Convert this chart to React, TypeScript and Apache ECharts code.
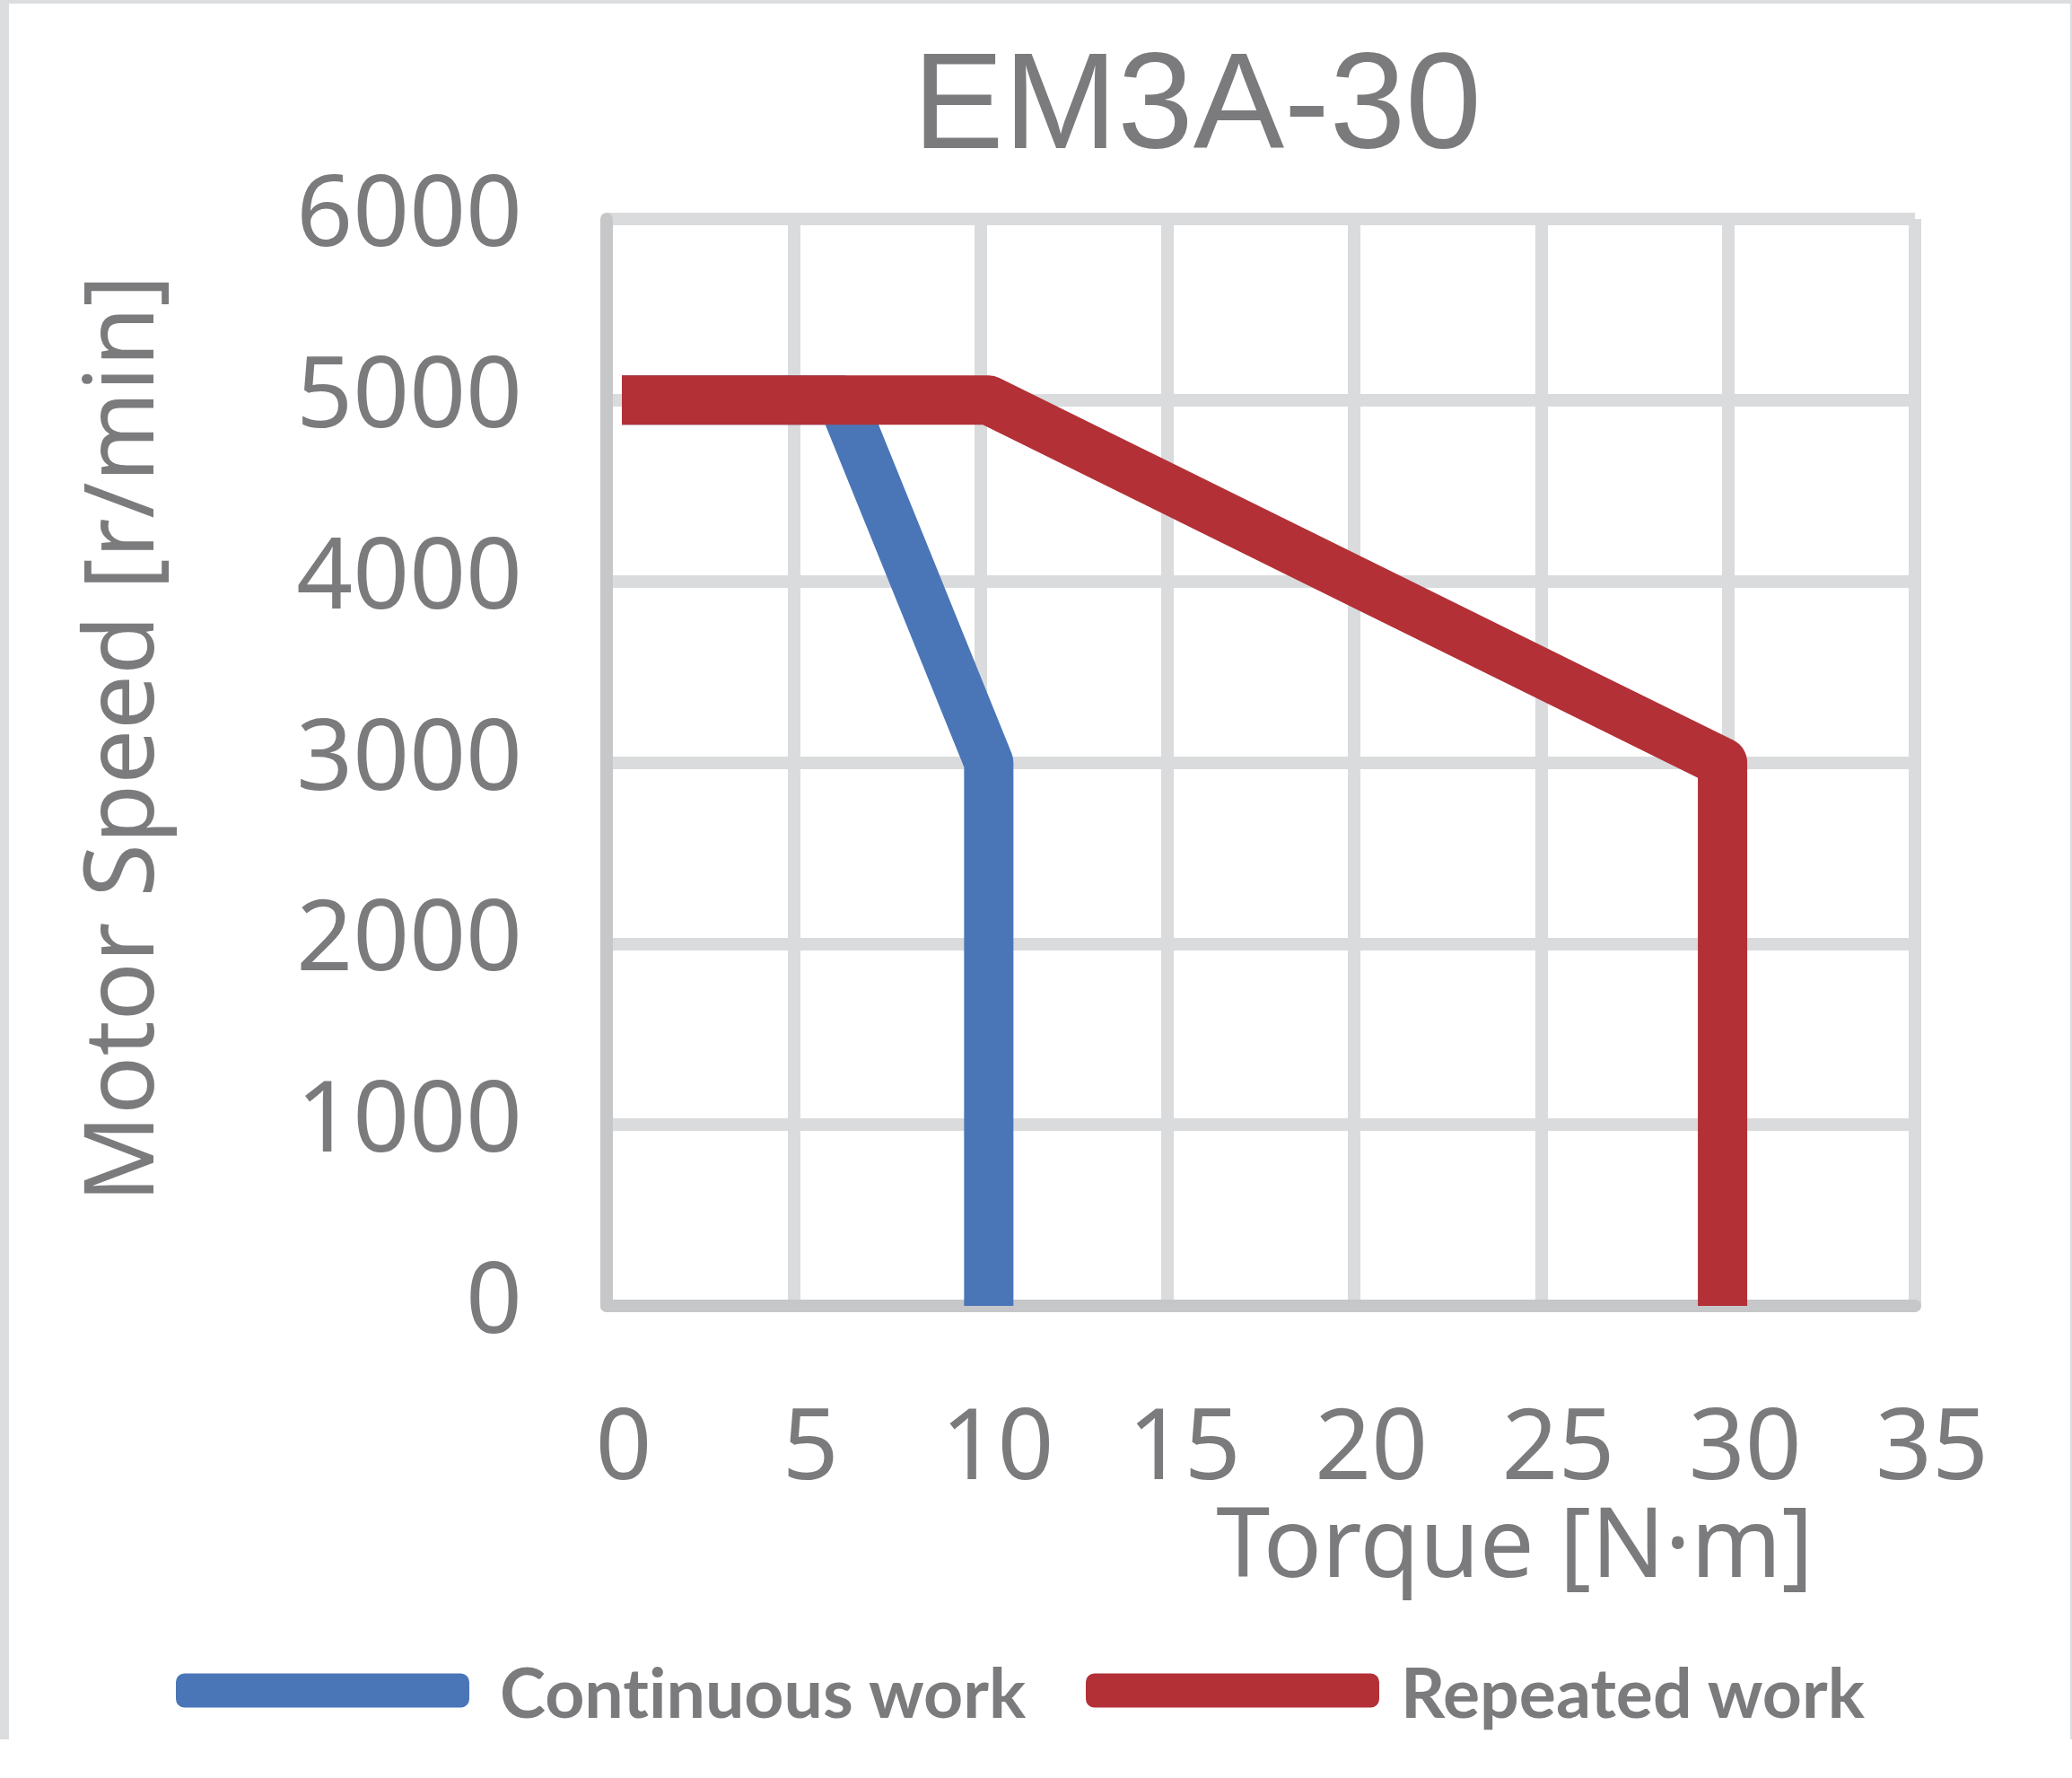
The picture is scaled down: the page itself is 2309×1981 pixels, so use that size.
import React, { useEffect, useRef } from "react";
import * as echarts from "echarts";

const chartTitle = "EM3A-30";
const xAxisTitle = "Torque [N·m]";
const yAxisTitle = "Motor Speed [r/min]";
const seriesNames = ["Continuous work", "Repeated work"];

const continuousTorque = [0, 6, 10, 10];
const continuousSpeed = [5000, 5000, 3000, 0];
const repeatedTorque = [0, 10, 30, 30];
const repeatedSpeed = [5000, 5000, 3000, 0];

const torqueMin = 0;
const torqueMax = 35;
const torqueStep = 5;
const speedMin = 0;
const speedMax = 6000;
const speedStep = 1000;

const BLUE = "#4a76b8";
const RED = "#b33037";
const TEXT = "#7b7b7d";
const GRID = "#dadbdd";
const AXIS = "#c6c7c9";
const FRAME = "#dcdddf";

const zip = (xs: number[], ys: number[]) => xs.map((x, i) => [x, ys[i]]);

export default function App() {
  const ref = useRef<HTMLDivElement>(null);
  useEffect(() => {
    if (!ref.current) return;
    const chart = echarts.init(ref.current, undefined, { renderer: "svg" });
    const labelFont = { fontFamily: "Noto Sans", fontSize: 110, color: TEXT };
    const legendBase = {
      icon: "roundRect",
      itemWidth: 327,
      itemHeight: 38,
      padding: 0,
      top: 1840,
      selectedMode: false,
      itemStyle: { borderWidth: 0 },
    };
    const hiddenX = (gridIndex: number) => ({
      type: "value",
      gridIndex,
      min: torqueMin,
      max: torqueMax,
      interval: torqueStep,
      show: false,
    });
    const hiddenY = (gridIndex: number) => ({
      type: "value",
      gridIndex,
      min: speedMin,
      max: speedMax,
      interval: speedStep,
      show: false,
    });
    chart.setOption({
      animation: false,
      backgroundColor: "#ffffff",
      title: {
        text: chartTitle,
        left: 1334,
        top: 36,
        padding: 0,
        textAlign: "center",
        textStyle: {
          fontFamily: "Liberation Sans",
          fontSize: 152,
          lineHeight: 152,
          fontWeight: "normal",
          color: TEXT,
        },
      },
      grid: [
        // plot frame with gridlines and axis lines
        { left: 676, top: 244, width: 1458, height: 1211 },
        // data area
        { left: 693, top: 244, width: 1431, height: 1211 },
        // tick label placement
        { left: 695, top: 231, width: 1458, height: 1211 },
      ],
      xAxis: [
        {
          type: "value",
          gridIndex: 0,
          min: torqueMin,
          max: torqueMax,
          interval: torqueStep,
          axisLine: { show: true, onZero: false, lineStyle: { color: AXIS, width: 14 } },
          axisTick: { show: false },
          splitLine: { show: true, lineStyle: { color: GRID, width: 14 } },
          axisLabel: { show: false },
        },
        hiddenX(1),
        {
          type: "value",
          gridIndex: 2,
          min: torqueMin,
          max: torqueMax,
          interval: torqueStep,
          axisLine: { show: false },
          axisTick: { show: false },
          splitLine: { show: false },
          axisLabel: { ...labelFont, lineHeight: 80, margin: 123 },
        },
      ],
      yAxis: [
        {
          type: "value",
          gridIndex: 0,
          min: speedMin,
          max: speedMax,
          interval: speedStep,
          axisLine: { show: true, onZero: false, lineStyle: { color: AXIS, width: 14 } },
          axisTick: { show: false },
          splitLine: { show: true, lineStyle: { color: GRID, width: 14 } },
          axisLabel: { show: false },
        },
        hiddenY(1),
        {
          type: "value",
          gridIndex: 2,
          min: speedMin,
          max: speedMax,
          interval: speedStep,
          axisLine: { show: false },
          axisTick: { show: false },
          splitLine: { show: false },
          axisLabel: {
            ...labelFont,
            lineHeight: 110,
            margin: 113,
            padding: [0, 0, 20, 0],
            formatter: (v: number) => String(v),
          },
        },
      ],
      legend: [
        {
          ...legendBase,
          left: 196,
          data: [{ name: seriesNames[0], itemStyle: { color: BLUE } }],
          textStyle: {
            fontFamily: "Lato",
            fontWeight: "bold",
            fontSize: 77,
            lineHeight: 77,
            color: TEXT,
            padding: [0, 0, 10, 29],
          },
        },
        {
          ...legendBase,
          left: 1210,
          data: [{ name: seriesNames[1], itemStyle: { color: RED } }],
          textStyle: {
            fontFamily: "Lato",
            fontWeight: "bold",
            fontSize: 77,
            lineHeight: 77,
            color: TEXT,
            padding: [0, 0, 10, 19],
          },
        },
      ],
      series: [
        {
          name: seriesNames[0],
          type: "line",
          xAxisIndex: 1,
          yAxisIndex: 1,
          data: zip(continuousTorque, continuousSpeed),
          symbol: "none",
          color: BLUE,
          lineStyle: { color: BLUE, width: 55, cap: "butt", join: "round" },
          z: 3,
        },
        {
          name: seriesNames[1],
          type: "line",
          xAxisIndex: 1,
          yAxisIndex: 1,
          data: zip(repeatedTorque, repeatedSpeed),
          symbol: "none",
          color: RED,
          lineStyle: { color: RED, width: 55, cap: "butt", join: "round" },
          z: 4,
        },
      ],
      graphic: [
        { type: "rect", silent: true, shape: { x: 0, y: 0, width: 10, height: 1938 }, style: { fill: FRAME } },
        { type: "rect", silent: true, shape: { x: 0, y: 0, width: 2309, height: 4 }, style: { fill: FRAME } },
        { type: "rect", silent: true, shape: { x: 2307, y: 0, width: 2, height: 1938 }, style: { fill: FRAME } },
        {
          type: "text",
          x: 129,
          y: 823,
          rotation: Math.PI / 2,
          style: {
            text: yAxisTitle,
            fill: TEXT,
            fontFamily: "Noto Sans",
            fontSize: 108,
            lineHeight: 90,
            align: "center",
            verticalAlign: "middle",
          },
        },
        {
          type: "text",
          x: 1688,
          y: 1715,
          style: {
            text: xAxisTitle,
            fill: TEXT,
            fontFamily: "Noto Sans",
            fontSize: 108,
            lineHeight: 80,
            align: "center",
            verticalAlign: "middle",
          },
        },
      ],
    });
    return () => chart.dispose();
  }, []);
  return (
    <div
      ref={ref}
      style={{
        position: "absolute",
        left: 0,
        top: 0,
        width: 2309,
        height: 1981,
        background: "#ffffff",
        fontVariantLigatures: "none",
      }}
    />
  );
}
